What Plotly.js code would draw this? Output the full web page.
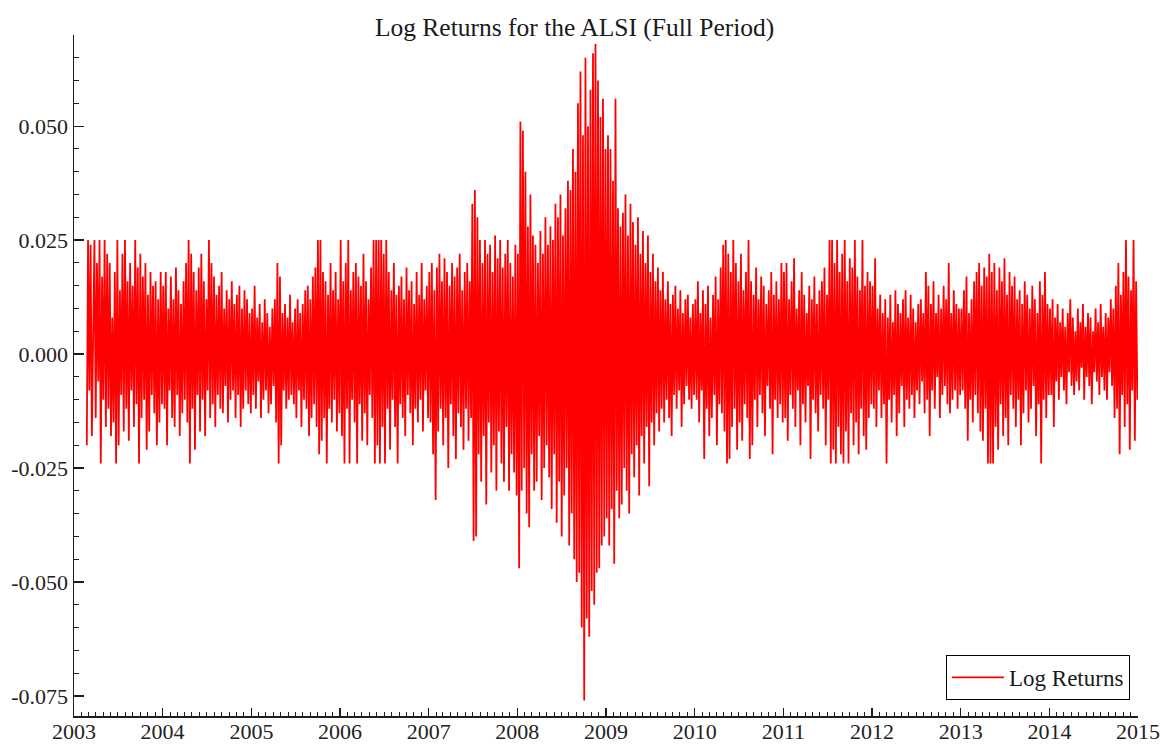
<!DOCTYPE html>
<html>
<head>
<meta charset="utf-8">
<script src="https://cdn.plot.ly/plotly-3.0.1.min.js"></script>
<style>
  html, body { margin: 0; padding: 0; background: #fff; }
  #chart { width: 1168px; height: 744px; }
</style>
</head>
<body>
<div id="chart"></div>
<script>
// Daily log returns of the ALSI (values in thousandths, i.e. x 1000)
var seriesStart = '2003-02-20';
var r2003 = [-20,25,-8,24,-18,12,25,-14,20,-6,25,-24,17,-10,25,-16,22,-12,20,-18,8,-15,18,-24,25,-20,14,-9,22,-17,25,-12,16,-19,20,-8,15,-16,25,-11,19,-24,22,-14,17,-10,20,-21,13,-17,18,-9,15,-13,16,-20,12,-15,18,-11];
var r2004 = [15,-12,18,-20,10,-8,17,-14,12,-16,19,-9,14,-18,11,-13,16,-10,20,-15,25,-24,22,-12,18,-21,14,-9,19,-17,22,-10,16,-18,12,-8,25,-14,20,-11,17,-16,13,-9,15,-12,18,-13,10,-7,14,-15,12,-10,16,-8,11,-14,13,-9,15,-16,10,-12,14,-8,12,-11,9,-13];
var r2005 = [10,-9,15,-12,8,-6,11,-14,7,-10,12,-8,9,-13,6,-11,10,-7,12,-15,20,-24,17,-20,9,-8,11,-12,8,-10,13,-9,7,-11,10,-14,12,-8,9,-16,11,-10,14,-12,15,-18,12,-14,17,-11,19,-16,25,-22,25,-19,18,-14,16,-24,13,-12,20,-15,14,-10,18,-17,12,-13];
var r2006 = [25,-18,16,-24,20,-12,25,-24,14,-10,18,-15,20,-24,17,-11,15,-19,22,-13,16,-20,12,-9,19,-14,25,-24,25,-20,25,-24,25,-16,22,-24,25,-12,18,-21,14,-10,20,-16,13,-24,15,-11,17,-14,12,-18,19,-9,14,-13,16,-20,11,-12,18,-15,13,-10,20,-17,12,-8,15,-14];
var r2007 = [18,-15,20,-22,14,-32,19,-17,22,-12,16,-20,21,-14,18,-25,15,-11,20,-18,17,-23,19,-13,22,-16,14,-21,18,-12,20,-19,16,-14,33,-41,36,-40,30,-22,25,-28,20,-18,25,-33,22,-15,24,-26,18,-20,26,-30,21,-17,25,-24,19,-28,22,-16,25,-30,20,-22,17,-26,24,-31];
var r2008 = [22,-47,51,-30,49,-25,40,-35,28,-38,35,-22,26,-30,24,-28,20,-18,27,-32,22,-25,30,-20,24,-27,28,-34,25,-22,33,-37,30,-28,35,-40,26,-31,32,-25,38,-42,36,-35,45,-45,40,-50,55,-48,62,-60,48,-76,65,-58,50,-62,58,-52,66,-55,68,-48,60,-47,52,-42,56,-40,45];
var r2009 = [-36,48,-42,45,-34,38,-46,56,-30,32,-36,28,-33,31,-25,35,-30,26,-35,33,-22,29,-27,24,-20,30,-31,22,-18,27,-24,20,-16,26,-29,18,-15,22,-20,16,-13,19,-17,14,-12,18,-15,12,-10,16,-14,11,-18,13,-9,15,-12,10,-8,14,-16,9,-11,12,-7,13,-10,8,-12,11,-9];
var r2010 = [12,-10,16,-15,9,-8,14,-23,11,-12,15,-18,8,-14,13,-9,17,-20,12,-11,19,-13,24,-17,25,-24,22,-23,18,-16,25,-12,20,-21,16,-15,22,-19,14,-11,18,-14,25,-23,16,-20,13,-10,19,-16,12,-9,17,-13,15,-18,11,-7,14,-12,18,-22,13,-10,16,-14,12,-11,20,-15];
var r2011 = [18,-14,20,-19,12,-9,16,-12,21,-16,10,-8,14,-20,18,-11,13,-15,9,-7,15,-23,12,-10,17,-13,11,-17,14,-9,16,-12,19,-20,13,-10,25,-24,25,-21,20,-24,25,-16,18,-22,22,-24,25,-17,16,-24,21,-13,19,-20,25,-15,17,-22,14,-12,25,-18,15,-21,18,-14,16,-11];
var r2012 = [15,-12,21,-16,10,-8,13,-14,9,-11,12,-24,8,-10,13,-15,7,-9,14,-18,11,-13,9,-7,12,-16,14,-10,8,-12,13,-9,10,-14,7,-8,11,-11,12,-6,9,-13,18,-10,15,-18,11,-8,16,-12,9,-5,13,-14,10,-9,15,-7,12,-11,20,-13,9,-10,14,-8,11,-12,10,-9];
var r2013 = [10,-8,14,-12,17,-19,9,-10,12,-15,16,-9,18,-13,20,-17,15,-19,19,-12,17,-24,22,-24,18,-24,20,-16,14,-21,19,-11,16,-18,21,-14,13,-20,18,-9,15,-12,17,-16,12,-10,14,-20,11,-13,16,-8,13,-15,10,-12,15,-7,12,-18,9,-11,16,-24,13,-10,18,-14,11,-9];
var r2014 = [10,-9,12,-16,8,-6,11,-10,7,-5,10,-8,6,-11,9,-4,12,-7,8,-9,5,-6,10,-8,7,-3,11,-10,6,-5,9,-7,8,-11,5,-4,10,-6,7,-9,11,-5,6,-8,9,-10,8,-4,12,-7,10,-14,15,-12,20,-22,13,-9,18,-16,25,-11,17,-21,14,-8,25,-19,16,-10];

var years = [2003,2004,2005,2006,2007,2008,2009,2010,2011,2012,2013,2014];
var yearly = [r2003,r2004,r2005,r2006,r2007,r2008,r2009,r2010,r2011,r2012,r2013,r2014];

var yTickVals = [-0.075,-0.05,-0.025,0,0.025,0.05];
var yTickText = ['-0.075','-0.050','-0.025','0.000','0.025','0.050'];

// trading observations spread across each calendar year
var xs = [], ys = [];
yearly.forEach(function (arr, k) {
  var y = years[k];
  var start = (k === 0) ? new Date(seriesStart + 'T00:00:00Z').getTime() : Date.UTC(y, 0, 1);
  var end = Date.UTC(y + 1, 0, 1);
  var n = arr.length;
  for (var i = 0; i < n; i++) {
    var t = start + (i + 0.5) / n * (end - start);
    xs.push(new Date(t).toISOString().slice(0, 19));
    ys.push(arr[i] / 1000);
  }
});

var serif = 'Liberation Serif, Times New Roman, serif';
var axisCol = '#1e1e1e';

var trace = {
  x: xs, y: ys, type: 'scatter', mode: 'lines',
  name: 'Log Returns',
  line: { color: '#ff0000', width: 1.8 },
  hoverinfo: 'x+y'
};

var layout = {
  width: 1168, height: 744,
  paper_bgcolor: '#ffffff', plot_bgcolor: '#ffffff',
  margin: { l: 74, r: 30, t: 35, b: 28 },
  title: {
    text: 'Log Returns for the ALSI (Full Period)',
    font: { family: serif, size: 25.5, color: '#1a1a1a' },
    x: 0.492, xanchor: 'center', xref: 'container',
    y: 1 - 27 / 744, yanchor: 'middle', yref: 'container'
  },
  showlegend: true,
  legend: {
    x: 0.9925, xanchor: 'right', y: 0.0235, yanchor: 'bottom',
    bordercolor: '#000', borderwidth: 1, bgcolor: '#fff',
    font: { family: serif, size: 23, color: '#1a1a1a' },
    itemwidth: 52,
    tracegroupgap: 0
  },
  xaxis: {
    type: 'date',
    range: ['2003-01-01', '2015-01-01'],
    showgrid: false, zeroline: false,
    showline: true, linecolor: axisCol, linewidth: 1.5,
    ticks: 'inside', ticklen: 8, tickwidth: 1.3, tickcolor: axisCol,
    tickmode: 'linear', tick0: '2003-01-01', dtick: 'M12', tickformat: '%Y',
    tickfont: { family: serif, size: 22, color: '#222' },
    ticklabelstandoff: -5,
    minor: { ticks: 'inside', ticklen: 4, tickwidth: 1, tickcolor: axisCol, dtick: 'M1', tick0: '2003-01-01', showgrid: false },
    fixedrange: true
  },
  yaxis: {
    range: [-0.0794, 0.0700],
    showgrid: false, zeroline: false,
    showline: true, linecolor: axisCol, linewidth: 1.5,
    ticks: 'inside', ticklen: 10, tickwidth: 1.3, tickcolor: axisCol,
    tickmode: 'array', tickvals: yTickVals, ticktext: yTickText,
    tickfont: { family: serif, size: 22, color: '#222' },
    minor: { ticks: 'inside', ticklen: 5, tickwidth: 1, tickcolor: axisCol, tickmode: 'linear', tick0: 0, dtick: 0.005, showgrid: false },
    fixedrange: true
  }
};

Plotly.newPlot('chart', [trace], layout, { displayModeBar: false, staticPlot: true });
</script>
</body>
</html>
